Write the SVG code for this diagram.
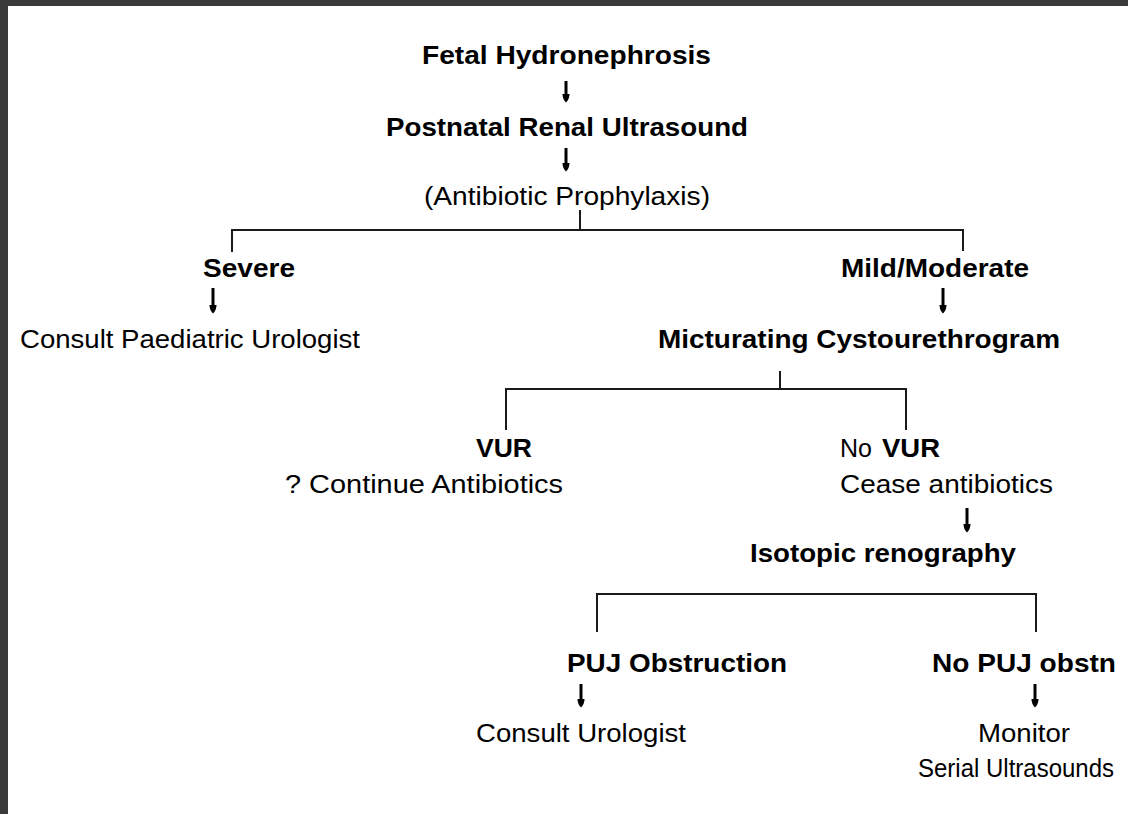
<svg xmlns="http://www.w3.org/2000/svg" width="1128" height="814" viewBox="0 0 1128 814">
<style>
text{font-family:"Liberation Sans",Arial,sans-serif;fill:#000;}
.b{font-weight:bold;font-size:26px;}
.n{font-size:25px;}
.ln{stroke:#1a1a1a;stroke-width:2;fill:none;}
.ar{stroke:#000;stroke-width:3;fill:none;marker-end:url(#ah);}
</style>
<defs>
<marker id="ah" viewBox="0 0 10 10" refX="6" refY="5" markerWidth="10" markerHeight="10" markerUnits="userSpaceOnUse" orient="auto">
<path d="M0,1.5 Q5,1.5 8.5,5 Q5,8.5 0,8.5 Q-1,5 0,1.5 Z" fill="#000"/>
</marker>
</defs>
<rect x="0" y="0" width="1128" height="814" fill="#fff"/>
<rect x="0" y="0" width="1128" height="6" fill="#3a3a3a"/>
<rect x="0" y="0" width="8" height="814" fill="#3a3a3a"/>

<g id="connectors">
<path class="ln" d="M580,210 V230 M232,252 V230 H963 V251"/>
<path class="ln" d="M780,371 V389 M506,430 V389 H906 V430"/>
<path class="ln" d="M597,632 V594 H1036 V632"/>
<path class="ar" d="M566,81 V100"/>
<path class="ar" d="M566,148 V169"/>
<path class="ar" d="M213,288 V311"/>
<path class="ar" d="M943,288 V311"/>
<path class="ar" d="M967,508 V530"/>
<path class="ar" d="M581,684 V705"/>
<path class="ar" d="M1035,684 V705"/>
</g>

<g id="n1"><text class="b" x="422" y="64" textLength="289" lengthAdjust="spacingAndGlyphs">Fetal Hydronephrosis</text></g>
<g id="n2"><text class="b" x="386" y="136" textLength="362" lengthAdjust="spacingAndGlyphs">Postnatal Renal Ultrasound</text></g>
<g id="n3"><text class="n" x="424" y="205" textLength="286" lengthAdjust="spacingAndGlyphs">(Antibiotic Prophylaxis)</text></g>
<g id="n4"><text class="b" x="203" y="277" textLength="92" lengthAdjust="spacingAndGlyphs">Severe</text></g>
<g id="n5"><text class="b" x="841" y="277" textLength="188" lengthAdjust="spacingAndGlyphs">Mild/Moderate</text></g>
<g id="n6"><text class="n" x="20" y="348" textLength="340" lengthAdjust="spacingAndGlyphs">Consult Paediatric Urologist</text></g>
<g id="n7"><text class="b" x="658" y="348" textLength="402" lengthAdjust="spacingAndGlyphs">Micturating Cystourethrogram</text></g>
<g id="n8"><text class="b" x="476" y="457" textLength="56" lengthAdjust="spacingAndGlyphs">VUR</text>
<text class="n" x="285" y="493" textLength="278" lengthAdjust="spacingAndGlyphs">? Continue Antibiotics</text></g>
<g id="n9"><text class="n" x="840" y="457" textLength="32" lengthAdjust="spacingAndGlyphs">No</text><text class="b" x="882" y="457" textLength="58" lengthAdjust="spacingAndGlyphs">VUR</text>
<text class="n" x="840" y="493" textLength="213" lengthAdjust="spacingAndGlyphs">Cease antibiotics</text></g>
<g id="n10"><text class="b" x="750" y="562" textLength="266" lengthAdjust="spacingAndGlyphs">Isotopic renography</text></g>
<g id="n11"><text class="b" x="567" y="672" textLength="220" lengthAdjust="spacingAndGlyphs">PUJ Obstruction</text></g>
<g id="n12"><text class="b" x="932" y="672" textLength="184" lengthAdjust="spacingAndGlyphs">No PUJ obstn</text></g>
<g id="n13"><text class="n" x="476" y="742" textLength="210" lengthAdjust="spacingAndGlyphs">Consult Urologist</text></g>
<g id="n14"><text class="n" x="978" y="742" textLength="92" lengthAdjust="spacingAndGlyphs">Monitor</text>
<text class="n" x="918" y="777" textLength="196" lengthAdjust="spacingAndGlyphs">Serial Ultrasounds</text></g>
</svg>
